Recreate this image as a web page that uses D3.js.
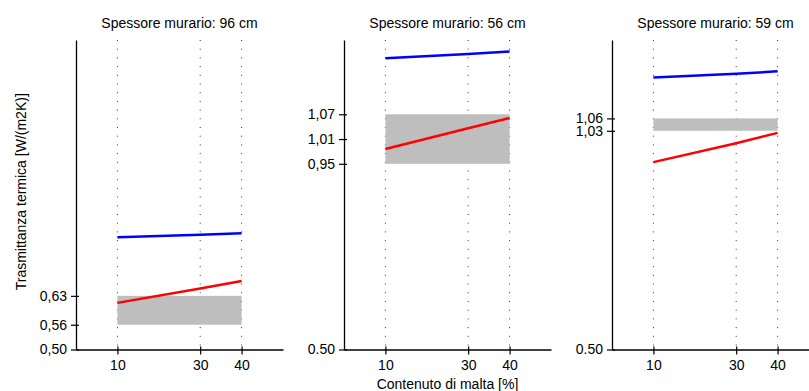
<!DOCTYPE html>
<html>
<head>
<meta charset="utf-8">
<script src="https://cdn.jsdelivr.net/npm/d3@7"></script>
<style>
  body { margin: 0; background: #fff; }
  text { font-family: "Liberation Sans", Arial, sans-serif; fill: #000; }
</style>
</head>
<body>
<div id="chart"></div>
<script>
// wall thickness panels
var thickness = ["96", "56", "59"];
var mortar = [10, 30, 40];

// upper (blue) and lower (red) curves, one array per panel
var blueVals = [[0.772, 0.778, 0.782], [1.206, 1.216, 1.222], [1.159, 1.168, 1.174]];
var redVals = [[0.613, 0.648, 0.666], [0.986, 1.036, 1.061], [0.954, 1.000, 1.025]];

// measured range (grey band)
var bandLow = [0.56, 0.95, 1.03];
var bandHigh = [0.63, 1.07, 1.06];

// y tick values and labels per panel
var yTickVals = [[0.50, 0.56, 0.63], [0.50, 0.95, 1.01, 1.07], [0.50, 1.03, 1.06]];
var yTickLabels = [["0,50", "0,56", "0,63"], ["0.50", "0,95", "1,01", "1,07"], ["0.50", "1,03", "1,06"]];

var W = 809, H = 391;
var plotTop = 40, plotBottom = 349.5;
var panelW = 207, firstLeft = 76, step = 268;
var fs = "14px";

var svg = d3.select("#chart").append("svg")
    .attr("width", W)
    .attr("height", H);

var y = d3.scaleLinear().domain([0.5, 1.25]).range([plotBottom, plotTop]);

thickness.forEach(function(t, i) {
    var left = firstLeft + i * step;
    var x = d3.scaleLinear().domain([0, 50]).range([0, panelW]);
    var g = svg.append("g").attr("transform", "translate(" + left + ",0)");

    // title
    g.append("text")
        .text("Spessore murario: " + t + " cm")
        .attr("x", panelW / 2)
        .attr("y", 28)
        .attr("text-anchor", "middle")
        .style("font-size", fs);

    // dotted grid at the mortar values
    g.selectAll(".grid").data(mortar).enter().append("line")
        .attr("x1", function(d) { return x(d); })
        .attr("x2", function(d) { return x(d); })
        .attr("y1", plotTop)
        .attr("y2", plotBottom)
        .attr("stroke", "#333")
        .attr("stroke-width", 1)
        .attr("stroke-dasharray", "1,7.7");

    // grey band
    g.append("rect")
        .attr("x", x(mortar[0]))
        .attr("width", x(mortar[2]) - x(mortar[0]))
        .attr("y", y(bandHigh[i]))
        .attr("height", y(bandLow[i]) - y(bandHigh[i]))
        .attr("fill", "#bebebe");

    var line = d3.line()
        .x(function(d, j) { return x(mortar[j]); })
        .y(function(d) { return y(d); });

    g.append("path")
        .datum(blueVals[i])
        .attr("d", line)
        .attr("fill", "none")
        .attr("stroke", "#0000ff")
        .attr("stroke-width", 2.5);

    g.append("path")
        .datum(redVals[i])
        .attr("d", line)
        .attr("fill", "none")
        .attr("stroke", "#ff0000")
        .attr("stroke-width", 2.5);

    // x axis
    var xAxis = d3.axisBottom(x)
        .tickValues(mortar)
        .tickSizeInner(5)
        .tickSizeOuter(0)
        .tickPadding(6);
    var xg = g.append("g")
        .attr("transform", "translate(0," + plotBottom + ")")
        .call(xAxis);
    xg.select(".domain").attr("stroke", "#000").attr("stroke-width", 1.3);
    xg.selectAll(".tick line").attr("y1", -3).attr("stroke", "#000").attr("stroke-width", 1.2);
    xg.selectAll(".tick text")
        .style("font-size", fs)
        .style("font-family", "Liberation Sans, Arial, sans-serif");

    // y axis
    var yAxis = d3.axisLeft(y)
        .tickValues(yTickVals[i])
        .tickFormat(function(d, j) { return yTickLabels[i][j]; })
        .tickSizeInner(5)
        .tickSizeOuter(0)
        .tickPadding(4);
    var yg = g.append("g").call(yAxis);
    yg.select(".domain").attr("stroke", "#000").attr("stroke-width", 1.3);
    yg.selectAll(".tick line").attr("x2", -5).attr("x1", 3).attr("stroke", "#000").attr("stroke-width", 1.2);
    yg.selectAll(".tick text")
        .style("font-size", fs)
        .style("font-family", "Liberation Sans, Arial, sans-serif");

    if (i === 1) {
        g.append("text")
            .text("Contenuto di malta [%]")
            .attr("x", panelW / 2)
            .attr("y", 389)
            .attr("text-anchor", "middle")
            .style("font-size", fs);
    }
});

// y axis title
svg.append("text")
    .text("Trasmittanza termica [W/(m2K)]")
    .attr("transform", "translate(26," + ((plotTop + plotBottom) / 2 - 3) + ") rotate(-90)")
    .attr("text-anchor", "middle")
    .style("font-size", fs);
</script>
</body>
</html>
